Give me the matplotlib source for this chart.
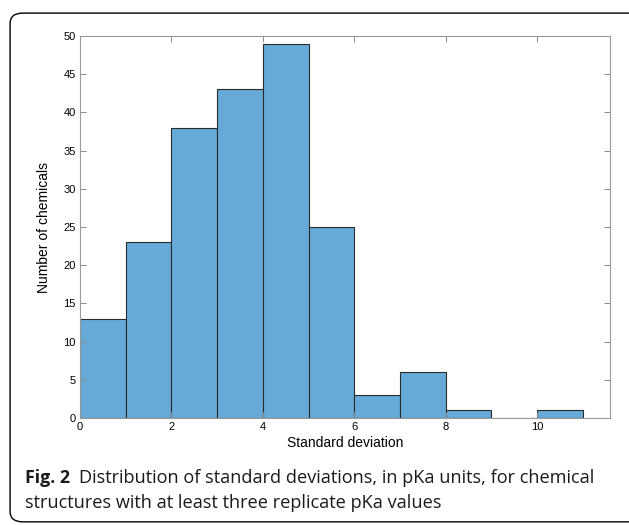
import matplotlib.pyplot as plt
from matplotlib.patches import FancyBboxPatch

# histogram of standard deviations (pKa units)
bin_edges = [0, 1, 2, 3, 4, 5, 6, 7, 8, 9, 10, 11]
counts = [13, 23, 38, 43, 49, 25, 3, 6, 1, 0, 1]
x_ticks = [0, 2, 4, 6, 8, 10]
y_ticks = [0, 5, 10, 15, 20, 25, 30, 35, 40, 45, 50]

fig = plt.figure(figsize=(6.29, 5.25), dpi=100)

# rounded frame around figure + caption (runs off the right edge)
frame = FancyBboxPatch((0.016, 0.006), 1.05, 0.969,
                       boxstyle='round,pad=0,rounding_size=0.02',
                       transform=fig.transFigure, fill=False,
                       edgecolor='black', linewidth=1.0)
fig.patches.append(frame)

ax = fig.add_axes([0.1272, 0.2038, 0.8428, 0.7276])
ax.bar(bin_edges[:-1], counts, width=1, align='edge',
       color='#66AAD7', edgecolor='#2b2b2b', linewidth=0.8)

ax.set_xlim(0, 11.6)
ax.set_ylim(0, 50)
ax.set_xticks(x_ticks)
ax.set_yticks(y_ticks)
ax.tick_params(direction='in', length=4, width=0.7, color='#8a8a8a',
               top=True, right=True, labelsize=8, pad=3)
for lab in ax.get_xticklabels() + ax.get_yticklabels():
    lab.set_family('Liberation Sans')
for s in ax.spines.values():
    s.set_color('#9a9a9a')
    s.set_linewidth(0.8)

ax.set_xlabel('Standard deviation', family='Liberation Sans', fontsize=10, labelpad=3)
ax.set_ylabel('Number of chemicals', family='Liberation Sans', fontsize=10, labelpad=9)

fig.text(0.040, 1 - 478 / 525, 'Fig. 2', family='Open Sans', fontweight='bold',
         fontsize=12.8, va='center', ha='left', color='#1a1a1a')
fig.text(0.126, 1 - 478 / 525,
         'Distribution of standard deviations, in pKa units, for chemical',
         family='Open Sans', fontsize=13.1, va='center', ha='left', color='#1a1a1a')
fig.text(0.040, 1 - 503 / 525, 'structures with at least three replicate pKa values',
         family='Open Sans', fontsize=13.1, va='center', ha='left', color='#1a1a1a')

fig.savefig('out.png', dpi=100)
